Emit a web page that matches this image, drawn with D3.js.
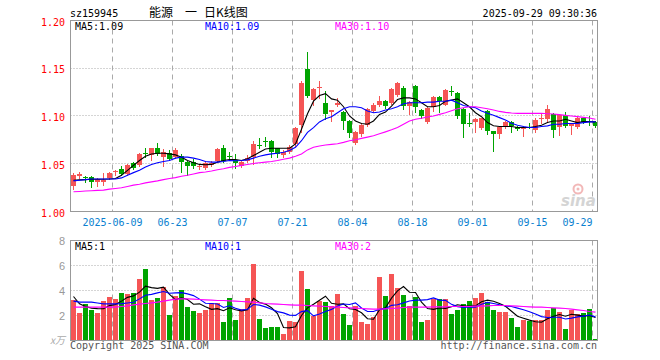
<!DOCTYPE html>
<html><head><meta charset="utf-8">
<script src="https://cdn.jsdelivr.net/npm/d3@7"></script>
<style>
body{margin:0;background:#fff}
svg{display:block}
text{font-family:"DejaVu Sans Mono",monospace;font-size:10px}
</style>
</head><body>
<svg id="c" width="660" height="360"></svg>
<script>
const code = "sz159945";
const titleParts = ["能源", "一", "日K线图"];
const stamp = "2025-09-29 09:30:36";
const year = "2025";
const dates = ["05-28","05-29","05-30","06-03","06-04","06-05","06-06","06-09","06-10","06-11",
"06-12","06-13","06-16","06-17","06-18","06-19","06-20","06-23","06-24","06-25",
"06-26","06-27","06-30","07-01","07-02","07-03","07-04","07-07","07-08","07-09",
"07-10","07-11","07-14","07-15","07-16","07-17","07-18","07-21","07-22","07-23",
"07-24","07-25","07-28","07-29","07-30","07-31","08-01","08-04","08-05","08-06",
"08-07","08-08","08-11","08-12","08-13","08-14","08-15","08-18","08-19","08-20",
"08-21","08-22","08-25","08-26","08-27","08-28","08-29","09-01","09-02","09-03",
"09-04","09-05","09-08","09-09","09-10","09-11","09-12","09-15","09-16","09-17",
"09-18","09-19","09-22","09-23","09-24","09-25","09-26","09-29"];
const open = [1.027,1.037,1.036,1.036,1.031,1.031,1.035,1.041,1.045,1.039,
1.051,1.049,1.061,1.059,1.067,1.057,1.061,1.057,1.058,1.052,
1.052,1.047,1.046,1.049,1.053,1.066,1.058,1.054,1.048,1.053,
1.057,1.070,1.074,1.074,1.066,1.059,1.062,1.071,1.091,1.149,
1.117,1.129,1.114,1.104,1.111,1.104,1.095,1.072,1.081,1.091,
1.105,1.112,1.116,1.114,1.122,1.129,1.110,1.131,1.106,1.094,
1.109,1.120,1.112,1.126,1.124,1.107,1.093,1.094,1.087,1.105,
1.084,1.081,1.089,1.094,1.089,1.086,1.089,1.085,1.097,1.097,
1.102,1.088,1.101,1.090,1.088,1.098,1.095,1.094];
const high = [1.040,1.041,1.037,1.037,1.035,1.040,1.041,1.043,1.048,1.050,
1.052,1.061,1.066,1.067,1.072,1.065,1.064,1.066,1.060,1.053,
1.055,1.049,1.053,1.053,1.066,1.070,1.062,1.060,1.053,1.059,
1.074,1.077,1.078,1.075,1.067,1.064,1.070,1.089,1.137,1.167,
1.129,1.137,1.126,1.106,1.119,1.105,1.096,1.084,1.093,1.108,
1.114,1.121,1.117,1.129,1.136,1.131,1.116,1.132,1.107,1.109,
1.121,1.121,1.128,1.131,1.125,1.108,1.103,1.098,1.098,1.106,
1.084,1.090,1.095,1.095,1.090,1.090,1.093,1.098,1.102,1.112,
1.103,1.102,1.104,1.093,1.100,1.099,1.100,1.095];
const low = [1.024,1.035,1.031,1.026,1.027,1.028,1.034,1.038,1.038,1.038,
1.045,1.048,1.057,1.054,1.059,1.048,1.054,1.056,1.041,1.038,
1.046,1.045,1.044,1.048,1.052,1.052,1.055,1.046,1.047,1.052,
1.050,1.067,1.069,1.057,1.057,1.057,1.061,1.069,1.083,1.120,
1.112,1.119,1.097,1.095,1.110,1.086,1.078,1.071,1.079,1.090,
1.104,1.110,1.108,1.113,1.121,1.107,1.102,1.104,1.098,1.093,
1.105,1.104,1.111,1.122,1.098,1.078,1.090,1.083,1.086,1.081,
1.063,1.077,1.087,1.083,1.085,1.079,1.087,1.083,1.093,1.095,
1.078,1.080,1.088,1.081,1.087,1.093,1.091,1.089];
const close = [1.038,1.039,1.035,1.031,1.034,1.033,1.040,1.042,1.039,1.049,
1.046,1.060,1.060,1.066,1.060,1.062,1.055,1.064,1.052,1.048,
1.048,1.048,1.051,1.051,1.065,1.053,1.057,1.051,1.052,1.056,
1.071,1.069,1.073,1.062,1.060,1.062,1.068,1.087,1.135,1.121,
1.128,1.130,1.102,1.106,1.114,1.095,1.082,1.083,1.091,1.107,
1.112,1.116,1.110,1.128,1.135,1.110,1.115,1.109,1.100,1.108,
1.120,1.116,1.127,1.125,1.100,1.092,1.092,1.097,1.098,1.084,
1.081,1.089,1.094,1.090,1.086,1.089,1.088,1.096,1.098,1.107,
1.085,1.101,1.090,1.092,1.098,1.094,1.094,1.090];
const ma5 = [1.0328,1.0331,1.0334,1.0338,1.0338,1.0338,1.0341,1.0345,1.0379,1.0431,
1.0483,1.0534,1.0579,1.0603,1.0610,1.0610,1.0603,1.0593,1.0569,1.0534,
1.0510,1.0493,1.0490,1.0493,1.0517,1.0534,1.0545,1.0545,1.0534,1.0552,
1.0586,1.0621,1.0655,1.0662,1.0662,1.0662,1.0662,1.0707,1.0862,1.1024,
1.1155,1.1214,1.1234,1.1179,1.1166,1.1097,1.1000,1.0948,1.0921,1.0914,
1.0948,1.1017,1.1041,1.1103,1.1172,1.1190,1.1190,1.1179,1.1138,1.1097,
1.1097,1.1110,1.1155,1.1166,1.1179,1.1138,1.1097,1.1034,1.0993,1.0931,
1.0897,1.0890,1.0890,1.0890,1.0879,1.0879,1.0879,1.0890,1.0903,1.0931,
1.0948,1.0948,1.0966,1.0948,1.0931,1.0941,1.0941,1.0938];
const ma10 = [1.0321,1.0328,1.0334,1.0341,1.0341,1.0341,1.0341,1.0341,1.0352,1.0379,
1.0407,1.0431,1.0466,1.0493,1.0510,1.0524,1.0534,1.0559,1.0569,1.0569,
1.0559,1.0545,1.0524,1.0517,1.0517,1.0524,1.0534,1.0531,1.0534,1.0541,
1.0559,1.0579,1.0593,1.0603,1.0610,1.0621,1.0638,1.0672,1.0741,1.0828,
1.0879,1.0938,1.0972,1.0993,1.1034,1.1076,1.1097,1.1097,1.1086,1.1052,
1.1034,1.1041,1.1062,1.1076,1.1097,1.1128,1.1138,1.1138,1.1138,1.1145,
1.1145,1.1155,1.1155,1.1166,1.1138,1.1110,1.1097,1.1086,1.1052,1.1028,
1.1007,1.0983,1.0959,1.0924,1.0903,1.0890,1.0879,1.0879,1.0890,1.0897,
1.0914,1.0914,1.0921,1.0921,1.0921,1.0931,1.0938,1.0938];
const ma30 = [1.0207,1.0210,1.0214,1.0217,1.0221,1.0224,1.0234,1.0241,1.0248,1.0262,
1.0276,1.0286,1.0300,1.0310,1.0321,1.0334,1.0345,1.0355,1.0369,1.0379,
1.0393,1.0407,1.0414,1.0424,1.0438,1.0448,1.0462,1.0472,1.0483,1.0493,
1.0503,1.0510,1.0517,1.0524,1.0534,1.0548,1.0559,1.0579,1.0603,1.0645,
1.0672,1.0686,1.0697,1.0703,1.0710,1.0724,1.0741,1.0752,1.0766,1.0779,
1.0793,1.0814,1.0834,1.0855,1.0879,1.0914,1.0948,1.0966,1.0976,1.0990,
1.1000,1.1017,1.1034,1.1055,1.1076,1.1086,1.1097,1.1097,1.1086,1.1076,
1.1062,1.1048,1.1038,1.1031,1.1028,1.1028,1.1028,1.1028,1.1028,1.1024,
1.1021,1.1014,1.1007,1.1000,1.0993,1.0986,1.0979,1.0966];
const volume = [3.20,2.16,2.85,2.40,2.16,3.12,3.44,3.28,3.76,3.65,
3.73,4.91,5.68,3.17,3.36,4.24,2.00,3.52,4.00,2.64,
2.32,2.16,2.40,2.93,2.96,1.44,3.36,1.60,2.48,3.36,
6.08,1.68,0.96,1.04,1.04,0.48,1.52,1.44,5.52,4.08,
1.94,3.12,3.04,2.72,3.68,2.08,1.20,2.72,1.44,1.28,
1.84,5.04,3.52,5.28,4.16,3.60,2.72,3.44,1.44,1.60,
3.25,3.25,3.31,2.08,2.40,2.88,3.12,3.36,3.76,3.04,
2.40,2.24,2.24,1.76,1.04,1.60,1.52,1.60,1.60,2.40,
2.56,2.24,0.88,2.40,2.08,2.16,2.48,0.08];
const vma5 = [3.52,2.93,2.72,2.59,2.55,2.54,2.79,2.88,3.15,3.45,
3.57,3.87,4.35,4.23,4.17,4.27,3.69,3.26,3.42,3.28,
2.90,2.93,2.70,2.49,2.55,2.38,2.62,2.46,2.37,2.45,
3.38,3.04,2.91,2.62,2.16,1.04,1.01,1.10,2.00,2.61,
2.90,3.22,3.54,2.98,2.90,2.93,2.54,2.48,2.22,1.74,
1.70,2.46,2.62,3.39,3.97,4.32,3.86,3.84,3.07,2.56,
2.49,2.60,2.57,2.70,2.86,2.78,2.76,2.77,3.10,3.23,
3.14,2.96,2.74,2.34,1.94,1.78,1.63,1.50,1.47,1.74,
1.94,2.08,1.94,2.10,2.03,1.95,2.00,1.84];
const vma10 = [3.15,3.07,3.07,3.07,3.00,2.93,2.93,2.93,2.95,3.00,
3.06,3.33,3.62,3.69,3.81,3.92,3.78,3.81,3.83,3.73,
3.59,3.31,2.98,2.96,2.92,2.64,2.78,2.58,2.43,2.50,
2.88,2.83,2.69,2.50,2.31,2.21,2.03,2.01,2.31,2.39,
1.97,2.12,2.32,2.49,2.76,2.92,2.88,3.01,2.60,2.32,
2.32,2.50,2.55,2.81,2.86,3.01,3.16,3.23,3.23,3.27,
3.41,3.23,3.21,2.89,2.71,2.64,2.68,2.67,2.90,3.05,
2.96,2.86,2.76,2.72,2.59,2.46,2.30,2.12,1.91,1.84,
1.86,1.86,1.72,1.79,1.89,1.95,2.04,1.89];
const vma30 = [2.67,2.67,2.67,2.67,2.67,2.67,2.67,2.67,2.72,2.77,
2.85,2.91,2.96,3.01,3.07,3.15,3.23,3.31,3.33,3.33,
3.31,3.28,3.25,3.23,3.20,3.20,3.17,3.15,3.12,3.09,
3.07,3.01,2.96,2.93,2.91,2.88,2.85,2.83,2.83,2.80,
2.77,2.75,2.72,2.69,2.67,2.64,2.61,2.59,2.56,2.53,
2.51,2.51,2.53,2.56,2.59,2.64,2.67,2.67,2.67,2.67,
2.69,2.69,2.69,2.72,2.72,2.72,2.72,2.75,2.75,2.77,
2.80,2.80,2.80,2.77,2.75,2.72,2.69,2.67,2.67,2.64,
2.61,2.59,2.56,2.51,2.45,2.40,2.32,2.27];
const tickDates = ["06-09","06-23","07-07","07-21","08-04","08-18","09-01","09-15","09-29"];
const priceTicks = [1.00,1.05,1.10,1.15,1.20];
const priceGrid = [1.05,1.10,1.15];
const volTicks = [2,4,6,8];
const volGrid = [2,4,6];
const priceLegend = ["MA5:1.09","MA10:1.09","MA30:1.10"];
const volLegend = ["MA5:1","MA10:1","MA30:2"];
const volUnit = "x万";
const copyright = "Copyright 2025 SINA.COM";
const url = "http://finance.sina.com.cn";

const UP = "#f55555", DOWN = "#00a400", MAC = ["#000000","#0000ff","#ff00ff"];
const L = 70.5, R = 597.5, PT = 20.5, PB = 211.5, VT = 240.5, VB = 340.5;

const svg = d3.select("#c");
const x = d3.scaleBand().domain(dates).range([70.5, 598.5]).paddingInner(1/6).paddingOuter(1/12);
const bw = x.bandwidth();
const cx = i => x(dates[i]) + Math.floor(bw/2) + 0.5;
const y = d3.scaleLinear().domain([1.00, 1.20]).range([PB, PT]);
const yv = d3.scaleLinear().domain([0, 8]).range([VB, VT]);
const half = v => Math.round(v - 0.5) + 0.5;

// grids
function grids(top, bottom, yscale, vals) {
  const g = svg.append("g");
  g.selectAll(".h").data(vals).join("line")
    .attr("x1", L).attr("x2", R)
    .attr("y1", d => half(yscale(d))).attr("y2", d => half(yscale(d)))
    .attr("stroke", "#aaaaaa").attr("stroke-dasharray", "1,2");
  g.selectAll(".v").data(tickDates).join("line")
    .attr("x1", d => x(d) - 0.5).attr("x2", d => x(d) - 0.5)
    .attr("y1", top).attr("y2", bottom)
    .attr("stroke", "#aaaaaa").attr("stroke-dasharray", "5,4");
}
grids(PT, PB, y, priceGrid);
grids(VT, VB, yv, volGrid);

// sina watermark
const wm = svg.append("g");
wm.append("circle").attr("cx", 578).attr("cy", 189).attr("r", 4.5)
  .attr("fill", "none").attr("stroke", "#f2b8b8").attr("stroke-width", 2);
wm.append("circle").attr("cx", 578).attr("cy", 189).attr("r", 1.5).attr("fill", "#f2b8b8");
wm.append("text").attr("x", 561).attr("y", 206).text("sina")
  .style("font-family", "DejaVu Sans").style("font-size", "15px")
  .style("font-style", "italic").style("font-weight", "bold").attr("fill", "#d4d4d4");

// candles
const idx = d3.range(dates.length);
const cg = svg.append("g");
cg.selectAll("line").data(idx).join("line")
  .attr("x1", cx).attr("x2", cx)
  .attr("y1", i => Math.round(y(high[i]))).attr("y2", i => Math.round(y(low[i])) + 1)
  .attr("stroke", i => close[i] >= open[i] ? UP : DOWN);
cg.selectAll("rect").data(idx).join("rect")
  .attr("x", i => x(dates[i])).attr("width", bw)
  .attr("y", i => Math.round(y(Math.max(open[i], close[i]))))
  .attr("height", i => Math.max(1, Math.round(y(Math.min(open[i], close[i]))) - Math.round(y(Math.max(open[i], close[i])))))
  .attr("fill", i => close[i] >= open[i] ? UP : DOWN);

// volume bars
svg.append("g").selectAll("rect").data(idx).join("rect")
  .attr("x", i => x(dates[i])).attr("width", bw)
  .attr("y", i => Math.round(yv(volume[i]) - 0.5))
  .attr("height", i => Math.max(1, 340 - Math.round(yv(volume[i]) - 0.5)))
  .attr("fill", i => close[i] >= open[i] ? UP : DOWN);

// MA lines
function maLine(arr, yscale, color) {
  svg.append("path").datum(arr)
    .attr("d", d3.line().x((d, i) => cx(i)).y(d => yscale(d)))
    .attr("fill", "none").attr("stroke", color).attr("stroke-width", 1.1);
}
[ma5, ma10, ma30].forEach((a, k) => maLine(a, y, MAC[k]));
[vma5, vma10, vma30].forEach((a, k) => maLine(a, yv, MAC[k]));

// frames
svg.append("rect").attr("x", L).attr("y", PT).attr("width", R - L).attr("height", PB - PT)
  .attr("fill", "none").attr("stroke", "#999999");
svg.append("rect").attr("x", L).attr("y", VT).attr("width", R - L).attr("height", VB - VT)
  .attr("fill", "none").attr("stroke", "#999999");

// axes
function styleAxis(g, color, family, size) {
  g.select(".domain").remove();
  g.attr("font-family", null).attr("font-size", null).attr("color", color);
  g.selectAll("text").style("font-family", family).style("font-size", size);
}
const ya = svg.append("g").attr("transform", "translate(66,1.5)")
  .call(d3.axisLeft(y).tickValues(priceTicks).tickFormat(d3.format(".2f")).tickSize(0).tickPadding(1));
styleAxis(ya, "#ff0000", "DejaVu Sans Mono", "10px");

const xa = svg.append("g").attr("transform", "translate(-3,211.5)")
  .call(d3.axisBottom(x).tickValues(tickDates)
    .tickFormat(d => d === tickDates[0] ? year + "-" + d : d).tickSize(0).tickPadding(7));
styleAxis(xa, "#0a7fd0", "DejaVu Sans Mono", "10px");
xa.selectAll(".tick").filter(d => d === tickDates[tickDates.length - 1])
  .select("text").attr("text-anchor", "end").attr("x", 0);

const va = svg.append("g").attr("transform", "translate(66,0)")
  .call(d3.axisLeft(yv).tickValues(volTicks).tickFormat(d3.format("d")).tickSize(0).tickPadding(1));
styleAxis(va, "#999999", "Liberation Sans", "11px");
svg.append("text").attr("x", 65).attr("y", 344).attr("text-anchor", "end")
  .attr("fill", "#aaaaaa").style("font-family", "Noto Sans CJK SC").style("font-size", "10px")
  .style("font-style", "italic").text(volUnit);

// legends
const legX = [75, 205, 335];
priceLegend.forEach((t, k) => svg.append("text").attr("x", legX[k]).attr("y", 30).attr("fill", MAC[k]).text(t));
volLegend.forEach((t, k) => svg.append("text").attr("x", legX[k]).attr("y", 250).attr("fill", MAC[k]).text(t));

// header
svg.append("text").attr("x", 70).attr("y", 17).attr("fill", "#000").text(code);
const tX = [149, 185, 204];
titleParts.forEach((t, k) => svg.append("text").attr("x", tX[k]).attr("y", 17).attr("fill", "#000")
  .style("font-family", "Noto Sans CJK SC").style("font-size", "12px").text(t));
svg.append("text").attr("x", 597).attr("y", 17).attr("text-anchor", "end").attr("fill", "#000").text(stamp);

// footer
svg.append("text").attr("x", 70).attr("y", 349).attr("fill", "#555").text(copyright);
svg.append("text").attr("x", 597).attr("y", 349).attr("text-anchor", "end").attr("fill", "#555").text(url);
</script>
</body></html>
